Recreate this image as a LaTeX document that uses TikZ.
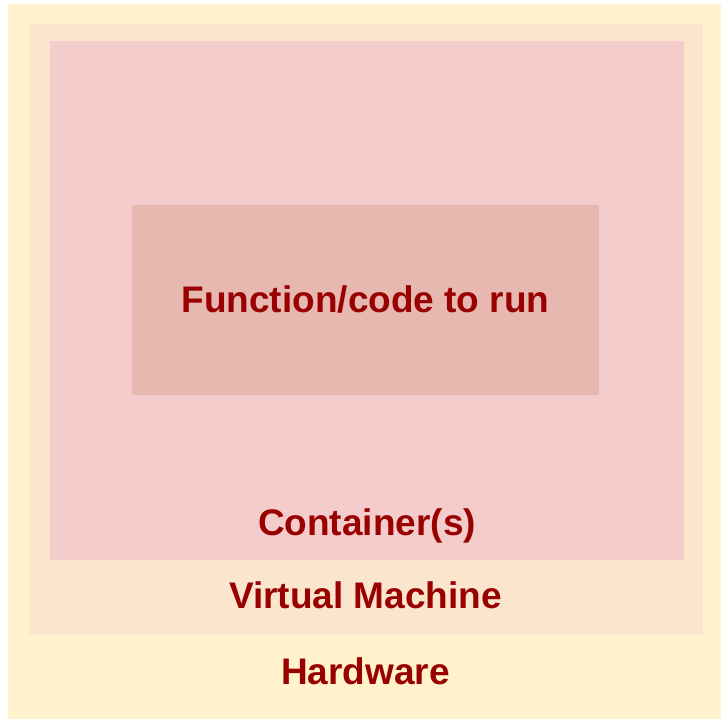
\documentclass[tikz,border=0pt]{standalone}
\usepackage{fontspec}
\setmainfont{Liberation Sans}
\definecolor{hwfill}{HTML}{FFF2CC}
\definecolor{vmfill}{HTML}{FCE5CD}
\definecolor{ctfill}{HTML}{F4CCCC}
\definecolor{fnfill}{HTML}{E6B8AF}
\definecolor{lbltext}{HTML}{990000}
\tikzset{
  lbl/.style={anchor=base, inner sep=0pt, text=lbltext, font=\fontsize{37}{44}\selectfont\bfseries},
}

\begin{document}
\begin{tikzpicture}[x=1pt,y=-1pt]
\useasboundingbox (0,0) rectangle (721,719);
% layers, outside in
\fill[hwfill] (8,4) rectangle (721,719);
\fill[vmfill] (29,24) rectangle (703,635);
\fill[ctfill] (50,41) rectangle (684,560);
\fill[fnfill] (132,205) rectangle (599,395);
% labels
\node[lbl] (fn) at (365.5,313) {Function/code to run};
\node[lbl] (ct) at (367,535) {Container(s)};
\node[lbl] (vm) at (365.5,608) {Virtual Machine};
\node[lbl] (hw) at (365.5,684) {Hardware};
\end{tikzpicture}
\end{document}
